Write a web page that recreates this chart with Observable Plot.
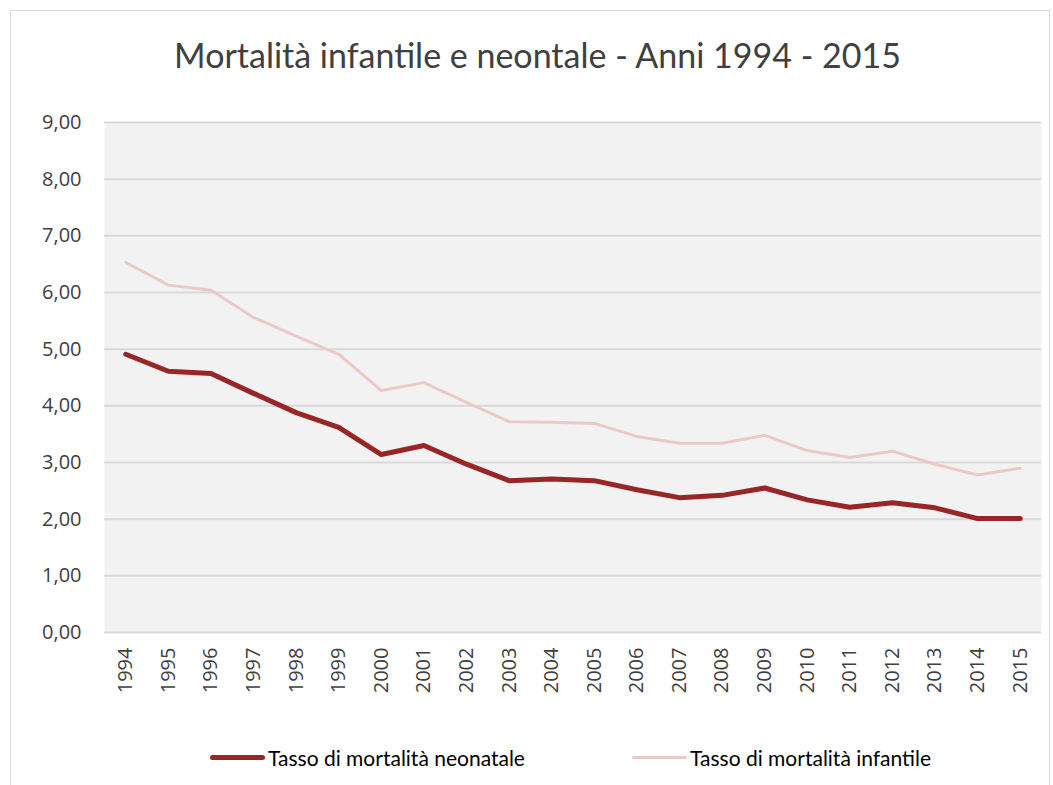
<!DOCTYPE html>
<html>
<head>
<meta charset="utf-8">
<script src="https://cdn.jsdelivr.net/npm/d3@7"></script>
<script src="https://cdn.jsdelivr.net/npm/@observablehq/plot@0.6"></script>
<style>
  html, body { margin: 0; padding: 0; background: #fff; overflow: hidden; }
  #frame { position: absolute; left: 10px; top: 10px; width: 1040px; height: 800px; border: 1px solid #d9d9d9; box-sizing: border-box; }
  #wrap { position: absolute; left: 0; top: 0; width: 1053px; }
  #title { height: 100px; display: flex; align-items: center; justify-content: center; padding-top: 8px; padding-left: 22px; box-sizing: border-box;
           font-family: "Lato", "Open Sans", sans-serif; font-size: 34px; color: #404040; }
  #legend { position: relative; height: 65px; font-family: "Lato", "Open Sans", sans-serif; font-size: 21px; color: #000; }
  .item { position: absolute; top: 25px; display: flex; align-items: center; }
  .swatch { display: inline-block; width: 55px; border-radius: 3px; margin-right: 3px; }
  svg { display: block; }
</style>
</head>
<body>
<div id="frame"></div>
<div id="wrap">
  <div id="title">Mortalità infantile e neontale - Anni 1994 - 2015</div>
  <div id="chart"></div>
  <div id="legend"></div>
</div>
<script>
const years = ["1994","1995","1996","1997","1998","1999","2000","2001","2002","2003","2004","2005","2006","2007","2008","2009","2010","2011","2012","2013","2014","2015"];
const neonatale = [4.91,4.61,4.57,4.22,3.88,3.62,3.14,3.30,2.97,2.68,2.71,2.68,2.52,2.38,2.42,2.55,2.34,2.21,2.29,2.20,2.01,2.01];
const infantile = [6.53,6.13,6.04,5.56,5.23,4.91,4.27,4.41,4.06,3.72,3.71,3.69,3.46,3.34,3.34,3.48,3.21,3.09,3.20,2.97,2.78,2.90];
const yTicks = [0,1,2,3,4,5,6,7,8,9];
const seriesNames = ["Tasso di mortalità neonatale", "Tasso di mortalità infantile"];
const seriesColors = ["#992626", "#ebc9c9"];
const seriesWidths = [5, 3];

const dataNeo = years.map((y, i) => ({year: y, value: neonatale[i]}));
const dataInf = years.map((y, i) => ({year: y, value: infantile[i]}));

const fmt = v => d3.format(".2f")(v).replace(".", ",");

const chart = Plot.plot({
  width: 1053,
  height: 620,
  marginTop: 22,
  marginBottom: 88,
  marginLeft: 104,
  marginRight: 12,
  style: { fontFamily: "'Open Sans', 'DejaVu Sans', sans-serif", fontSize: "20px", color: "#404040", background: "transparent" },
  x: { type: "point", domain: years, padding: 0.5, round: false, label: null },
  y: { domain: [0, 9], label: null },
  marks: [
    Plot.frame({ fill: "#f2f2f2", stroke: null }),
    Plot.ruleY(yTicks, { stroke: "#d9d9d9", strokeWidth: 2 }),
    Plot.axisY(yTicks, { tickFormat: fmt, tickSize: 0, tickPadding: 23, fontSize: 20, fill: "#404040" }),
    Plot.axisX(years, { tickSize: 0, tickRotate: -90, tickPadding: 15, fontSize: 20, fill: "#404040" }),
    Plot.line(dataInf, { x: "year", y: "value", stroke: seriesColors[1], strokeWidth: seriesWidths[1], strokeLinecap: "round", strokeLinejoin: "round" }),
    Plot.line(dataNeo, { x: "year", y: "value", stroke: seriesColors[0], strokeWidth: seriesWidths[0], strokeLinecap: "round", strokeLinejoin: "round" })
  ]
});
document.getElementById("chart").appendChild(chart);

const legend = document.getElementById("legend");
const lefts = [210, 632];
seriesNames.forEach((name, i) => {
  const item = document.createElement("div");
  item.className = "item";
  item.style.left = lefts[i] + "px";
  const sw = document.createElement("span");
  sw.className = "swatch";
  sw.style.height = seriesWidths[i] + "px";
  sw.style.background = seriesColors[i];
  item.appendChild(sw);
  const t = document.createElement("span");
  t.textContent = name;
  item.appendChild(t);
  legend.appendChild(item);
});
</script>
</body>
</html>
